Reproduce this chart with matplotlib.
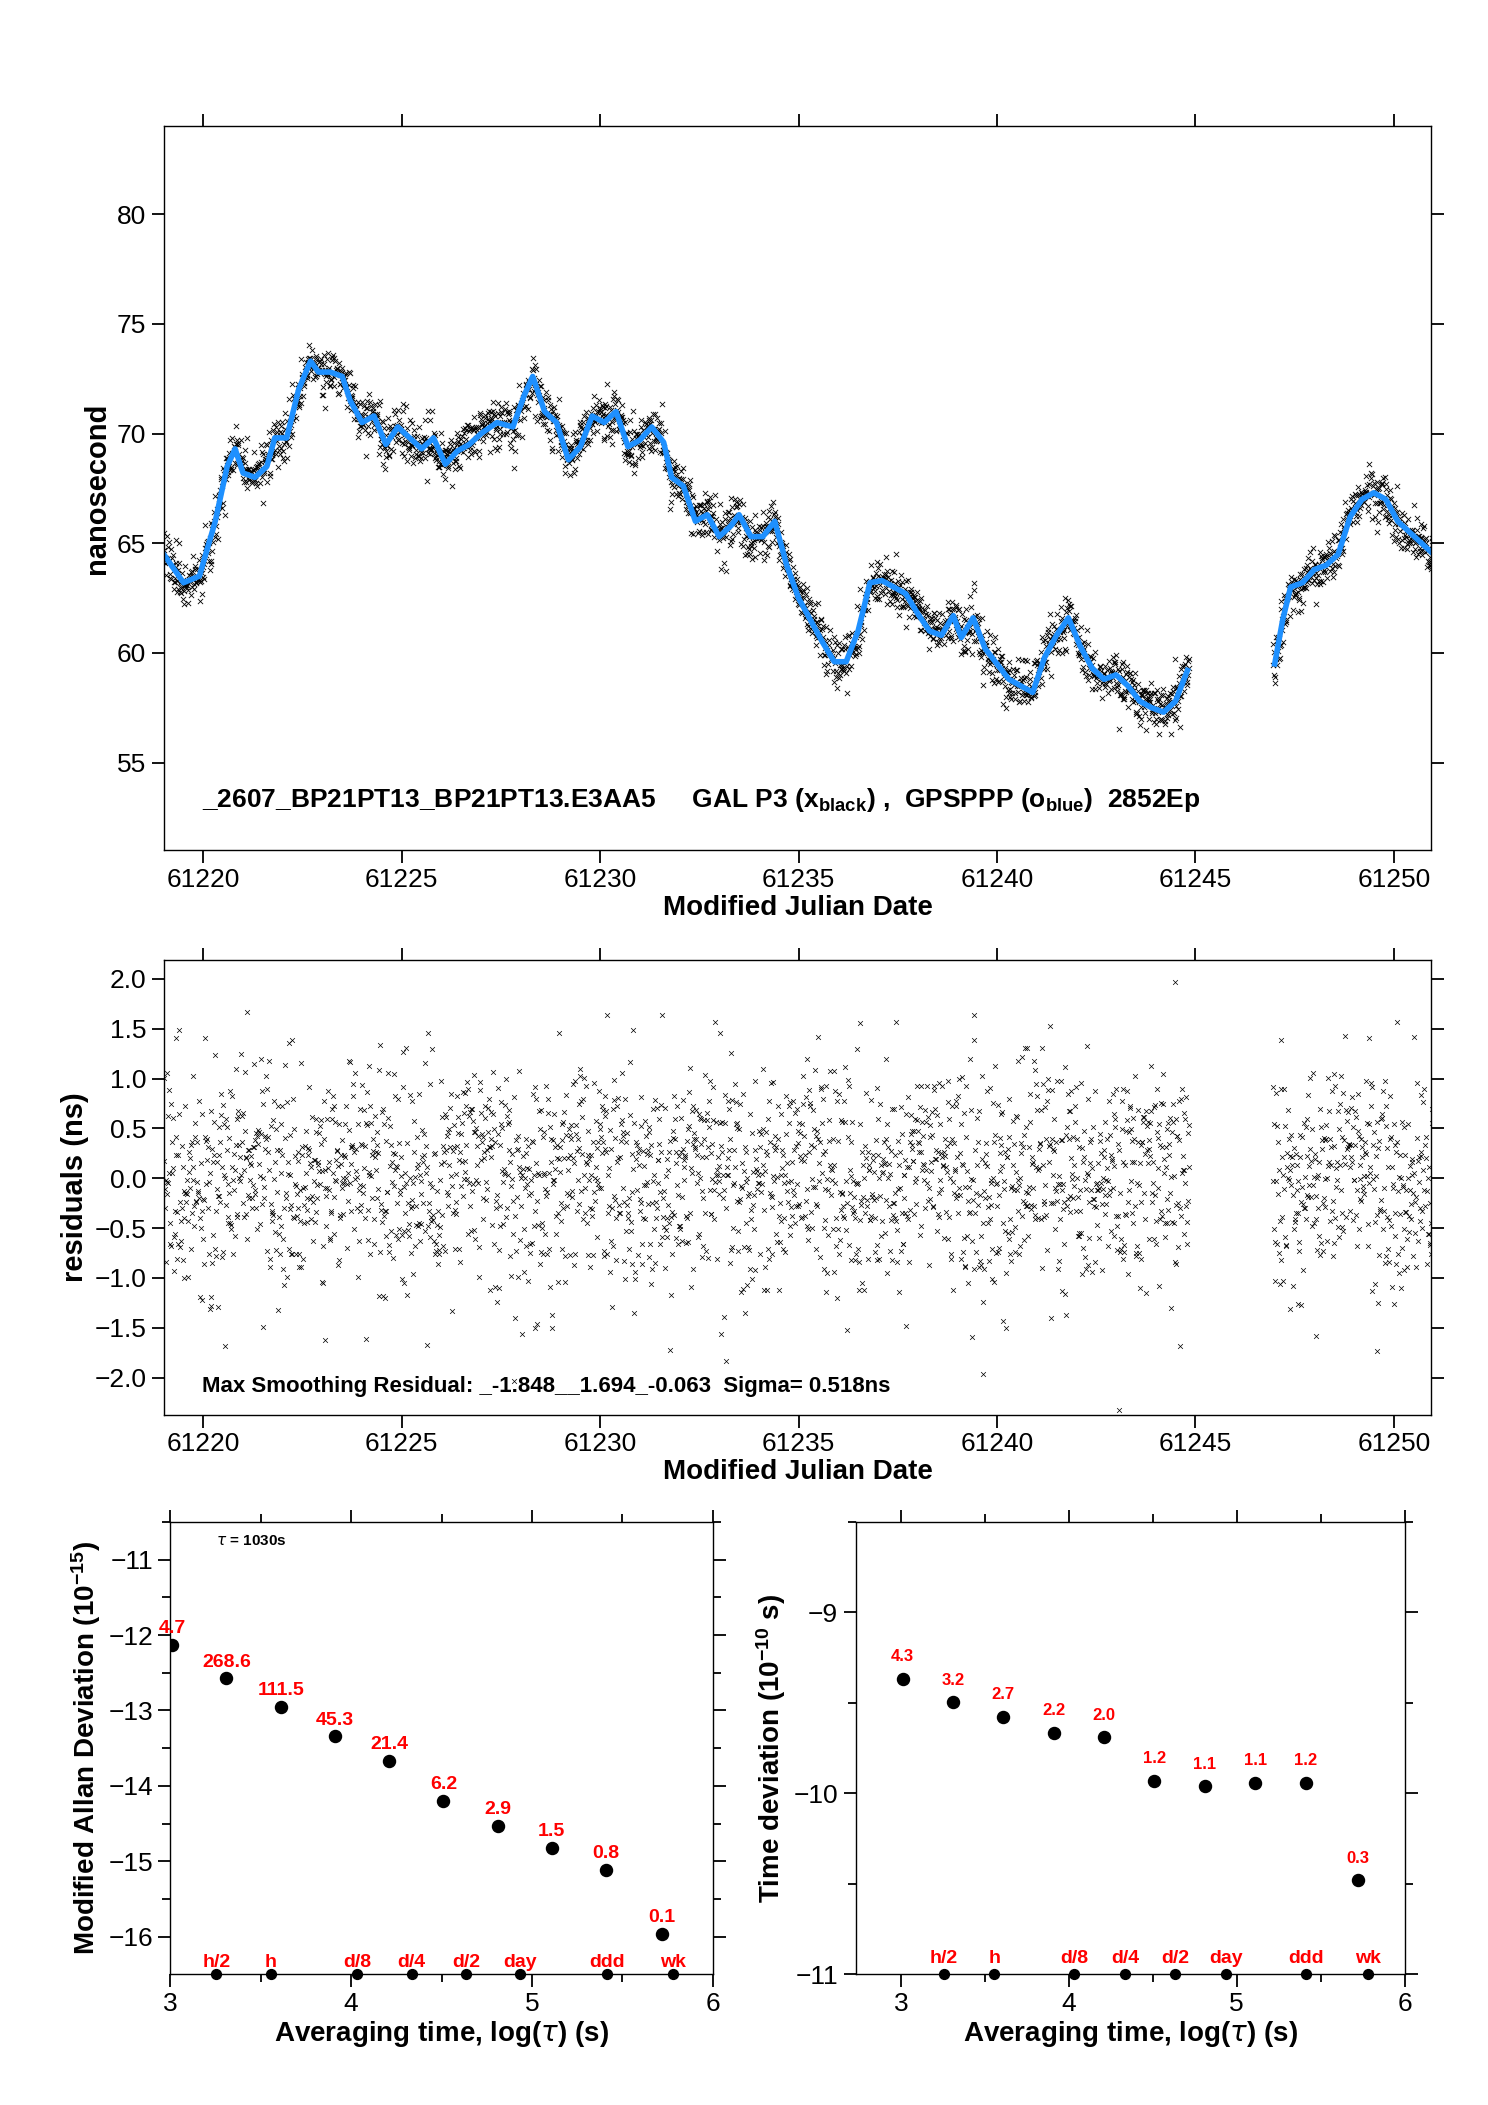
import numpy as np
import matplotlib
matplotlib.use("Agg")
import matplotlib.pyplot as plt

plt.rcParams['font.family'] = ['Liberation Sans', 'DejaVu Sans']
plt.rcParams['mathtext.fontset'] = 'custom'
plt.rcParams['mathtext.bf'] = 'Liberation Sans:bold'
plt.rcParams['mathtext.rm'] = 'Liberation Sans'

# ---- top panel trend (MJD, ns) ----
trend_mjd_a = [61219.0,61219.5,61219.9,61220.3,61220.6,61220.8,61221.0,61221.3,61221.6,61221.8,
               61222.1,61222.4,61222.7,61222.9,61223.2,61223.5,61223.7,61224.0,61224.3,61224.6,
               61224.9,61225.2,61225.5,61225.8,61226.1,61226.4,61226.7,61227.0,61227.4,61227.8,
               61228.1,61228.3,61228.6,61228.9,61229.2,61229.5,61229.8,61230.1,61230.4,61230.7,
               61231.0,61231.3,61231.6,61231.8,61232.1,61232.4,61232.7,61233.0,61233.3,61233.5,
               61233.8,61234.1,61234.4,61234.7,61235.0,61235.3,61235.6,61235.9,61236.2,61236.5,
               61236.8,61237.1,61237.4,61237.7,61238.0,61238.3,61238.6,61238.9,61239.1,61239.4,
               61239.7,61240.0,61240.3,61240.6,61240.9,61241.2,61241.5,61241.8,61242.1,61242.4,
               61242.7,61243.0,61243.3,61243.6,61243.9,61244.2,61244.5,61244.8]
trend_ns_a = [64.5,63.2,63.5,66.0,68.5,69.3,68.2,68.0,68.5,69.8,
              69.8,72.0,73.3,72.8,72.8,72.6,71.5,70.5,70.8,69.5,
              70.3,69.8,69.3,69.8,68.6,69.2,69.5,70.0,70.5,70.3,
              71.8,72.6,71.0,70.5,68.8,69.4,70.8,70.5,71.0,69.4,
              69.7,70.3,69.6,68.0,67.6,66.0,66.3,65.3,65.8,66.3,
              65.3,65.3,66.0,64.0,62.5,61.5,60.5,59.6,59.6,61.0,
              63.2,63.3,63.0,62.7,61.8,61.0,60.8,61.7,60.7,61.6,
              60.2,59.5,58.8,58.5,58.2,59.8,60.8,61.6,60.3,59.3,
              58.8,59.0,58.5,57.8,57.5,57.3,57.8,59.2]
trend_mjd_b = [61247.0,61247.2,61247.4,61247.7,61248.0,61248.3,61248.6,61248.9,61249.2,61249.5,
               61249.8,61250.1,61250.4,61250.7,61251.0]
trend_ns_b = [59.5,61.5,63.0,63.2,63.8,64.0,64.5,66.2,67.0,67.3,
              67.0,66.0,65.5,65.0,64.5]

# ---- residuals (ns), typed list, reused over the epochs ----
resid = [0.12,-0.35,0.48,-0.71,0.05,0.33,-0.18,0.92,-0.44,0.21,-0.09,0.61,-0.83,0.27,-0.52,0.14,0.73,-0.26,0.38,-1.05,
         0.02,-0.31,0.55,0.19,-0.62,0.44,-0.12,0.81,-0.38,0.07,-0.95,0.29,0.63,-0.21,0.11,-0.47,1.12,-0.16,0.36,-0.68,
         0.24,-0.05,0.52,-0.86,0.17,0.41,-0.29,-0.58,0.69,0.03,-0.41,0.26,-1.22,0.47,0.09,-0.23,0.84,-0.54,0.31,-0.11,
         0.58,-0.76,0.13,0.39,-0.33,0.01,0.97,-0.49,0.22,-0.64,0.35,-0.15,0.66,-0.92,0.08,0.45,-0.27,0.18,-0.57,1.31,
         -0.04,0.28,-0.72,0.51,-0.19,0.42,-1.48,0.16,0.71,-0.36,0.06,-0.61,0.33,0.88,-0.24,0.15,-0.45,0.57,-0.82,0.25,
         -0.13,0.64,-0.39,0.04,1.05,-0.67,0.37,-0.22,0.19,-1.12,0.49,-0.07,0.77,-0.51,0.23,-0.3,0.6,-0.88,0.1,0.43,
         -0.17,0.32,-0.63,0.86,-0.42,0.14,-0.02,0.54,-1.32,0.27,0.67,-0.25,0.09,-0.55,0.4,-0.79,1.18,-0.14,0.3,-0.48,
         0.2,-0.69,0.74,-0.08,0.35,-0.37,0.56,-0.97,0.12,0.47,-0.2,0.81,-0.6,0.05,-0.32,0.62,-1.65,0.26,0.39,-0.1,
         0.71,-0.46,0.17,-0.74,0.44,0.0,-0.28,0.93,-0.53,0.21,-0.15,0.58,-0.84,0.34,-0.06,1.42,-0.4,0.11,-0.66,0.29,
         0.5,-0.23,0.07,-1.01,0.63,-0.34,0.18,-0.12,0.76,-0.57,0.24,0.41,-0.89,0.15,-0.43,0.68,-0.18,0.02,1.0,-0.7,
         0.36,-0.26,0.53,-1.38,0.13,0.46,-0.09,0.27,-0.5,0.85,-0.31,0.08,-0.78,0.59,0.2,-0.44,0.34,-0.13,0.72,-0.61,
         -1.85,0.16,0.42,-0.21,1.69,-0.35,0.06,-0.93,0.31,0.55,-0.17,0.23,-0.65,0.9,-0.39,0.1,-0.24,0.48,-1.1,0.38]

interval_days = 1030.0 / 86400.0
t_all = np.arange(61219.0, 61251.0, interval_days)
t_epochs = t_all[(t_all < 61244.85) | (t_all > 61246.95)]
n_r = len(resid)
r_epochs = np.array([(resid[(i * 7) % n_r] + resid[(i * 53 + i // 11) % n_r]) * 0.72 for i in range(len(t_epochs))])

def trend_at(t):
    return np.where(t < 61246.0,
                    np.interp(t, trend_mjd_a, trend_ns_a),
                    np.interp(t, trend_mjd_b, trend_ns_b))

# ---- stability data ----
mdev_logtau = [3.01,3.31,3.61,3.91,4.21,4.51,4.81,5.11,5.41,5.72]
mdev_val = [-12.13,-12.57,-12.95,-13.34,-13.67,-14.20,-14.53,-14.82,-15.11,-15.96]
mdev_lbl = ['4.7','268.6','111.5','45.3','21.4','6.2','2.9','1.5','0.8','0.1']
tdev_logtau = [3.01,3.31,3.61,3.91,4.21,4.51,4.81,5.11,5.41,5.72]
tdev_val = [-9.365,-9.495,-9.575,-9.665,-9.69,-9.93,-9.96,-9.94,-9.94,-10.48]
tdev_lbl = ['4.3','3.2','2.7','2.2','2.0','1.2','1.1','1.1','1.2','0.3']
mark_lbl = ['h/2','h','d/8','d/4','d/2','day','ddd','wk']
mark_logtau = [3.255,3.556,4.032,4.334,4.635,4.936,5.413,5.782]

fig = plt.figure(figsize=(14.88, 21.05), dpi=100)

def style(ax):
    ax.tick_params(which='both', direction='out', top=True, right=True, labelsize=19, width=1.3)
    ax.tick_params(which='major', length=9)
    ax.tick_params(which='minor', length=6)
    for s in ax.spines.values():
        s.set_linewidth(1.0)

intfmt = matplotlib.ticker.FuncFormatter(lambda v, p: '%d' % v)

# top panel
ax1 = fig.add_axes([0.110, 0.596, 0.852, 0.344])
ax1.scatter(t_epochs, trend_at(t_epochs) + r_epochs, marker='x', s=14, c='black', linewidths=0.6)
ax1.plot(trend_mjd_a, trend_ns_a, color='#1e90ff', lw=4)
ax1.plot(trend_mjd_b, trend_ns_b, color='#1e90ff', lw=4)
ax1.set_xlim(61219.0, 61250.95)
ax1.set_ylim(51, 84)
ax1.set_xticks(range(61220, 61251, 5))
ax1.xaxis.set_major_formatter(intfmt)
ax1.set_yticks([55, 60, 65, 70, 75, 80])
style(ax1)
ax1.set_ylabel('nanosecond', fontsize=21, fontweight='bold')
ax1.set_xlabel('Modified Julian Date', fontsize=20, fontweight='bold', labelpad=2)
ax1.text(0.03, 0.06, r'_2607_BP21PT13_BP21PT13.E3AA5     GAL P3 (x$\mathbf{_{black}}$) ,  GPSPPP (o$\mathbf{_{blue}}$)  2852Ep',
         transform=ax1.transAxes, fontsize=19, fontweight='bold')

# middle panel
ax2 = fig.add_axes([0.110, 0.328, 0.852, 0.216])
ax2.scatter(t_epochs, r_epochs, marker='x', s=12, c='black', linewidths=0.5)
ax2.set_xlim(61219.0, 61250.95)
ax2.set_ylim(-2.37, 2.19)
ax2.set_xticks(range(61220, 61251, 5))
ax2.xaxis.set_major_formatter(intfmt)
ax2.set_yticks(np.arange(-2.0, 2.01, 0.5))
ax2.yaxis.set_major_formatter(matplotlib.ticker.FuncFormatter(lambda v, p: ('\u2212%.1f' % -v) if v < -1e-9 else '%.1f' % abs(v)))
style(ax2)
ax2.set_ylabel('residuals (ns)', fontsize=21, fontweight='bold')
ax2.set_xlabel('Modified Julian Date', fontsize=20, fontweight='bold', labelpad=2)
ax2.text(0.03, 0.05, 'Max Smoothing Residual: _-1.848__1.694_-0.063  Sigma= 0.518ns',
         transform=ax2.transAxes, fontsize=16, fontweight='semibold')

# bottom left
ax3 = fig.add_axes([0.1145, 0.062, 0.3645, 0.215])
ax3.scatter(mdev_logtau, mdev_val, s=75, c='black', zorder=3)
for x, y, l in zip(mdev_logtau, mdev_val, mdev_lbl):
    ax3.text(x, y + 0.1, l, color='red', fontsize=14, fontweight='bold', ha='center', va='bottom')
ax3.scatter(mark_logtau, [-16.5] * len(mark_logtau), s=50, c='black', zorder=3, clip_on=False)
for x, l in zip(mark_logtau, mark_lbl):
    ax3.text(x, -16.45, l, color='red', fontsize=14, fontweight='bold', ha='center', va='bottom')
ax3.text(3.25, -10.8, r'$\tau$ = 1030s', fontsize=11, fontweight='bold')
ax3.set_xlim(3, 6)
ax3.set_ylim(-16.5, -10.5)
ax3.set_xticks([3, 4, 5, 6])
ax3.set_xticks([3.5, 4.5, 5.5], minor=True)
ax3.set_yticks([-16, -15, -14, -13, -12, -11])
ax3.set_yticks([-15.5, -14.5, -13.5, -12.5, -11.5, -10.5], minor=True)
style(ax3)
ax3.set_ylabel(r'Modified Allan Deviation (10$\mathbf{^{-15}}$)', fontsize=20, fontweight='bold')
ax3.set_xlabel(r'Averaging time, log($\tau$) (s)', fontsize=20, fontweight='bold', labelpad=2)

# bottom right
ax4 = fig.add_axes([0.575, 0.062, 0.369, 0.215])
ax4.scatter(tdev_logtau, tdev_val, s=75, c='black', zorder=3)
for x, y, l in zip(tdev_logtau, tdev_val, tdev_lbl):
    ax4.text(x, y + 0.08, l, color='red', fontsize=12, fontweight='bold', ha='center', va='bottom')
ax4.scatter(mark_logtau, [-11.0] * len(mark_logtau), s=50, c='black', zorder=3, clip_on=False)
for x, l in zip(mark_logtau, mark_lbl):
    ax4.text(x, -10.96, l, color='red', fontsize=14, fontweight='bold', ha='center', va='bottom')
ax4.set_xlim(2.73, 6)
ax4.set_ylim(-11, -8.5)
ax4.set_xticks([3, 4, 5, 6])
ax4.set_xticks([3.5, 4.5, 5.5], minor=True)
ax4.set_yticks([-11, -10, -9])
ax4.set_yticks([-10.5, -9.5, -8.5], minor=True)
style(ax4)
ax4.set_ylabel(r'Time deviation (10$\mathbf{^{-10}}$ s)', fontsize=20, fontweight='bold')
ax4.set_xlabel(r'Averaging time, log($\tau$) (s)', fontsize=20, fontweight='bold', labelpad=2)

fig.savefig('out.png', dpi=100)
